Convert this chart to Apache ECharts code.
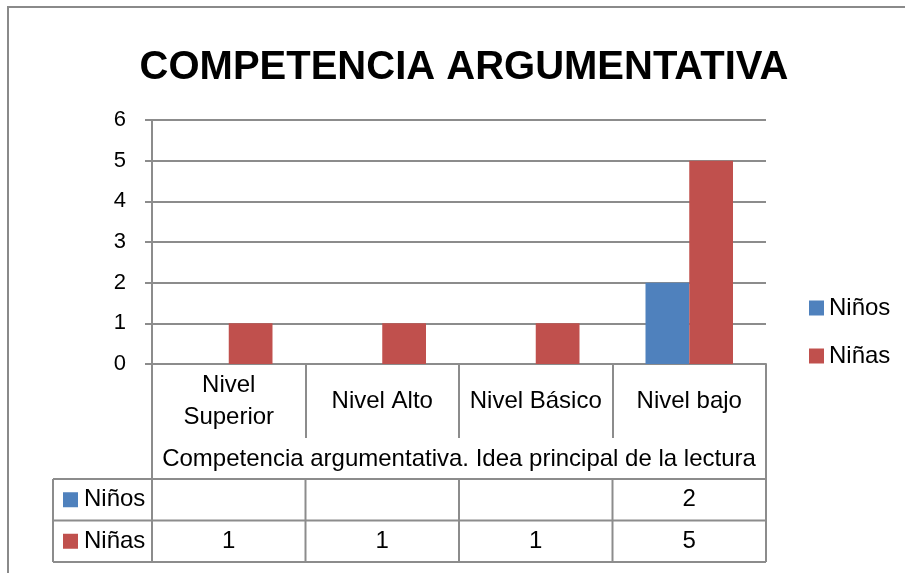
<!DOCTYPE html>
<html><head><meta charset="utf-8">
<script src="https://cdn.jsdelivr.net/npm/echarts@6/dist/echarts.min.js"></script>
<style>html,body{margin:0;padding:0;background:#fff}#c{width:905px;height:573px}</style>
</head><body><div id="c"></div>
<script>
const chartTitle = 'COMPETENCIA ARGUMENTATIVA';
const categories = ['Nivel Superior', 'Nivel Alto', 'Nivel Básico', 'Nivel bajo'];
const groupLabel = 'Competencia argumentativa. Idea principal de la lectura';
const seriesNames = ['Niños', 'Niñas'];
const ninos = [null, null, null, 2];
const ninas = [1, 1, 1, 5];
const yMin = 0, yMax = 6, yStep = 1;
const colors = ['#4F81BD', '#C0504D'];

const FONT = "'Liberation Sans', Arial, sans-serif";
const FS = 24;
const LINE = '#8c8c8c';
const chart = echarts.init(document.getElementById('c'), null, {renderer: 'canvas'});

chart.setOption({
  animation: false,
  backgroundColor: '#fff',
  title: {
    text: chartTitle, left: 459, top: 43, textAlign: 'center',
    textStyle: {fontFamily: "'Liberation Sans', Arial", fontWeight: 'bold', fontSize: 40, color: '#000'}
  },
  legend: {
    orient: 'vertical', left: 804, top: 291, itemWidth: 15, itemHeight: 15, itemGap: 24, icon: 'rect',
    textStyle: {fontFamily: FONT, fontSize: FS, color: '#000'},
    data: seriesNames
  },
  grid: {left: 152, right: 139, top: 120, bottom: 209, containLabel: false},
  xAxis: {
    type: 'category', data: categories,
    axisLine: {lineStyle: {color: LINE, width: 2}},
    axisTick: {show: true, interval: 0, length: 74, lineStyle: {color: LINE, width: 2}},
    axisLabel: {interval: 0, fontFamily: FONT, fontSize: FS, color: '#000', margin: 37,
      verticalAlign: 'middle', lineHeight: 32, align: 'center',
      formatter: v => v.length > 12 ? v.replace(' ', '\n') : v}
  },
  yAxis: {
    type: 'value', min: yMin, max: yMax, interval: yStep,
    axisLine: {show: true, lineStyle: {color: LINE, width: 2}},
    axisTick: {show: true, length: 7, lineStyle: {color: LINE, width: 2}},
    splitLine: {lineStyle: {color: LINE, width: 2}},
    axisLabel: {fontFamily: FONT, fontSize: 22, color: '#000', margin: 26}
  },
  series: [
    {name: seriesNames[0], type: 'bar', data: ninos, itemStyle: {color: colors[0]}, barGap: '0%', barCategoryGap: '43%'},
    {name: seriesNames[1], type: 'bar', data: ninas, itemStyle: {color: colors[1]}, barGap: '0%', barCategoryGap: '43%'}
  ]
});

function buildTable() {
  const cx = categories.map(c => chart.convertToPixel({xAxisIndex: 0}, c));
  const w = cx[1] - cx[0];
  const bounds = cx.map(x => x - w / 2).concat([cx[cx.length - 1] + w / 2]);
  const y0 = chart.convertToPixel({yAxisIndex: 0}, yMin);
  const labelBottom = y0 + 74;
  const rowTop = y0 + 115;
  const rowH = 41.5;
  const tableLeft = 53;
  const els = [];
  const line = (x1, y1, x2, y2) => els.push({type: 'line', silent: true,
    shape: {x1, y1, x2, y2}, style: {stroke: LINE, lineWidth: 2}});
  els.push({type: 'rect', silent: true, shape: {x: 8, y: 7, width: 1000, height: 1000},
    style: {fill: null, stroke: '#8a8a8a', lineWidth: 2}});
  line(bounds[0], y0, bounds[0], rowTop + 2 * rowH);
  line(bounds[bounds.length - 1], y0, bounds[bounds.length - 1], rowTop + 2 * rowH);
  for (let r = 0; r <= 2; r++) line(tableLeft, rowTop + r * rowH, bounds[bounds.length - 1], rowTop + r * rowH);
  line(tableLeft, rowTop, tableLeft, rowTop + 2 * rowH);
  for (let i = 1; i < bounds.length - 1; i++) line(bounds[i], rowTop, bounds[i], rowTop + 2 * rowH);
  els.push({type: 'text', silent: true, style: {text: groupLabel, x: (bounds[0] + bounds[bounds.length - 1]) / 2,
    y: (labelBottom + rowTop) / 2 + 1, textAlign: 'center', textVerticalAlign: 'middle', align: 'center', verticalAlign: 'middle',
    font: FS + 'px ' + FONT, fill: '#000'}});
  [ninos, ninas].forEach((vals, r) => {
    const yc = rowTop + r * rowH + rowH / 2;
    els.push({type: 'rect', silent: true, shape: {x: 63, y: yc - 7.5, width: 15, height: 15}, style: {fill: colors[r]}});
    els.push({type: 'text', silent: true, style: {text: seriesNames[r], x: 84, y: yc, textAlign: 'left', textVerticalAlign: 'middle',
      align: 'left', verticalAlign: 'middle', font: FS + 'px ' + FONT, fill: '#000'}});
    vals.forEach((v, i) => {
      if (v === null || v === undefined) return;
      els.push({type: 'text', silent: true, style: {text: String(v), x: cx[i], y: yc, textAlign: 'center', textVerticalAlign: 'middle',
        align: 'center', verticalAlign: 'middle', font: FS + 'px ' + FONT, fill: '#000'}});
    });
  });
  chart.setOption({graphic: {elements: els}});
}
buildTable();
</script></body></html>
